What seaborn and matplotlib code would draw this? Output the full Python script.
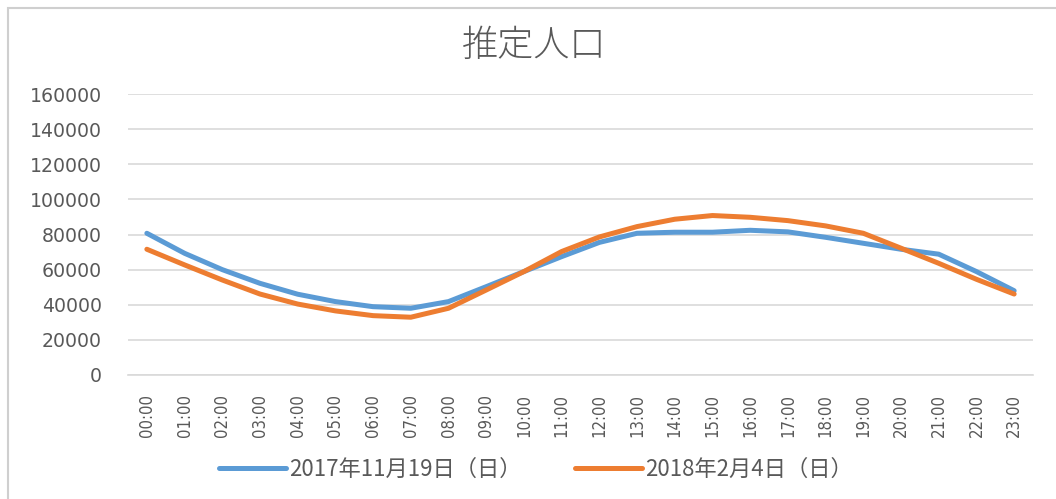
import matplotlib
matplotlib.use("Agg")
import matplotlib.pyplot as plt
import matplotlib.patches as mpatches
from matplotlib import font_manager
import seaborn as sns
import pandas as pd

# Hourly estimated population for two Sundays
hours = [f"{h:02d}:00" for h in range(24)]
series_names = ["2017年11月19日（日）", "2018年2月4日（日）"]
pop_2017_11_19 = [80700, 69300, 60000, 52200, 46000, 41800, 38900, 38000,
                  41800, 50300, 58900, 67400, 75500, 80700, 81300, 81300,
                  82400, 81500, 78400, 75000, 71600, 68800, 58900, 48000]
pop_2018_02_04 = [71600, 62700, 54100, 46100, 40400, 36500, 33800, 32900,
                  38000, 48400, 58900, 70300, 78600, 84500, 88700, 90800,
                  89800, 87900, 84900, 80700, 72200, 63600, 54500, 46100]
y_ticks = [0, 20000, 40000, 60000, 80000, 100000, 120000, 140000, 160000]
title = "推定人口"

colors = ["#5B9BD5", "#ED7D31"]
text_gray = "#595959"
grid_gray = "#D9D9D9"

df = pd.DataFrame({
    "pos": list(range(len(hours))) * 2,
    "value": pop_2017_11_19 + pop_2018_02_04,
    "series": [series_names[0]] * len(hours) + [series_names[1]] * len(hours),
})

sns.set_theme(style="white")
plt.rcParams["font.family"] = ["Noto Sans CJK JP", "DejaVu Sans"]

# a condensed face suits the rotated hour labels when one is available
fonts = font_manager.fontManager.ttflist
names = {f.name for f in fonts}
has_condensed = any(f.name == "DejaVu Sans" and f.stretch in ("condensed", 600, "semi-condensed")
                    for f in fonts) or any("Condensed" in f.fname for f in fonts if f.name == "DejaVu Sans")
if "Liberation Sans Narrow" in names:
    hour_font = dict(family="Liberation Sans Narrow", fontsize=15.5)
elif has_condensed:
    hour_font = dict(family="DejaVu Sans", fontstretch="condensed", fontsize=12)
else:
    hour_font = dict(family="DejaVu Sans", fontsize=11)

fig = plt.figure(figsize=(10.56, 4.99), dpi=100)
ax = fig.add_axes([128 / 1056, 1 - 375 / 499, (1033 - 128) / 1056, (375 - 94) / 499])

sns.lineplot(data=df, x="pos", y="value", hue="series", hue_order=series_names,
             palette=colors, linewidth=3.6, ax=ax, legend=False)

ax.set_xlim(-0.5, len(hours) - 0.5)
ax.set_ylim(0, 160000)
ax.set_yticks(y_ticks)
ax.set_yticklabels([str(v) for v in y_ticks], family="DejaVu Sans",
                   fontsize=13.6, color=text_gray)
ax.set_xticks(range(len(hours)))
ax.set_xticklabels(hours, rotation=90, color=text_gray, va="top", **hour_font)
ax.tick_params(axis="x", length=0, pad=14)
ax.tick_params(axis="y", length=0, pad=19)
ax.set_xlabel("")
ax.set_ylabel("")

ax.yaxis.grid(True, color=grid_gray, linewidth=1.2)
ax.set_axisbelow(True)
for side in ["top", "right", "left"]:
    ax.spines[side].set_visible(False)
ax.spines["bottom"].set_color(grid_gray)
ax.spines["bottom"].set_linewidth(1.2)

fig.text(534 / 1056, 1 - 46 / 499, title, ha="center", va="center",
         fontsize=26, fontweight="light", color=text_gray,
         family=["Noto Sans CJK JP", "DejaVu Sans"])

handles = [plt.Line2D([], [], color=c, linewidth=3.6) for c in colors]
leg = fig.legend(handles, series_names, loc="center",
                 bbox_to_anchor=(536 / 1056, 1 - 469 / 499), ncol=2,
                 frameon=False, handlelength=3.0,
                 handletextpad=0.15, columnspacing=2.4,
                 prop={"family": ["Noto Sans CJK JP", "DejaVu Sans"], "size": 16})
for t in leg.get_texts():
    t.set_color(text_gray)

# chart-area frame
frame = mpatches.Rectangle((8 / 1056, -0.1), 1.2, 1 - 8 / 499 + 0.1,
                           transform=fig.transFigure, fill=False,
                           edgecolor="#CFCFCF", linewidth=1.5)
fig.patches.append(frame)

fig.savefig("out.png", dpi=100)
